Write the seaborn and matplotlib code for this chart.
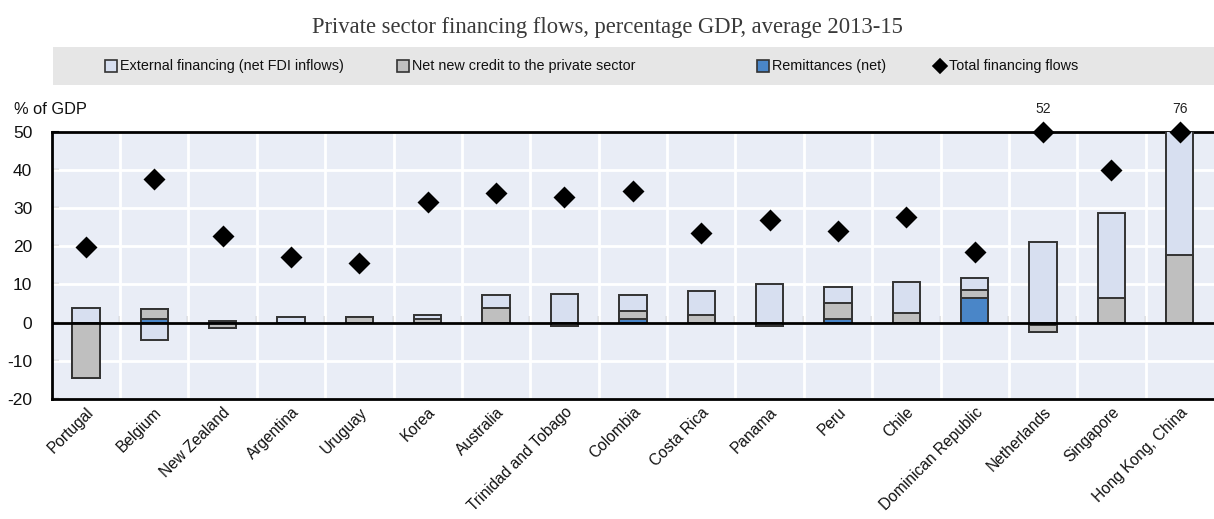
import numpy as np
import pandas as pd
import matplotlib
matplotlib.use("Agg")
import matplotlib.pyplot as plt
from matplotlib.patches import Rectangle
from matplotlib.lines import Line2D
import seaborn as sns

countries = ["Portugal", "Belgium", "New Zealand", "Argentina", "Uruguay", "Korea",
             "Australia", "Trinidad and Tobago", "Colombia", "Costa Rica", "Panama",
             "Peru", "Chile", "Dominican Republic", "Netherlands", "Singapore",
             "Hong Kong, China"]
external = [3.7, -4.6, 0.4, 1.5, 0.0, 0.9, 3.25, 7.6, 4.35, 6.1, 10.0, 4.25, 8.05, 3.25, 21.0, 22.2, 58.3]
credit = [-14.6, 2.5, -1.3, 0.0, 1.5, 1.0, 3.9, -0.9, 1.9, 2.1, -0.8, 4.0, 2.5, 2.1, -1.9, 6.5, 17.7]
remittances = [0.0, 1.0, 0.0, 0.0, 0.0, 0.0, -0.2, 0.0, 1.05, 0.0, 0.0, 1.05, 0.0, 6.35, -0.6, 0.0, 0.0]
total = [19.9, 37.5, 22.7, 17.1, 15.7, 31.7, 34.0, 33.0, 34.5, 23.4, 26.9, 24.0, 27.7, 18.5, 52.0, 40.0, 76.0]

y_ticks = [-20, -10, 0, 10, 20, 30, 40, 50]
y_min, y_max = -20, 50

series_names = ["External financing (net FDI inflows)", "Net new credit to the private sector",
                "Remittances (net)", "Total financing flows"]
c_ext = "#D7DFF0"
c_credit = "#BFBFBF"
c_remit = "#4A86C8"
c_edge = "#333333"
c_bg = "#E9EDF6"

sns.set_theme(style="white")
sans = ["Liberation Sans", "DejaVu Sans"]
plt.rcParams["font.family"] = sans

fig = plt.figure(figsize=(12.14, 5.19), dpi=100)
ax = fig.add_axes([51.7 / 1214, 1 - 399 / 519, 1 - 51.7 / 1214, (399 - 131.7) / 519])
ax.set_facecolor(c_bg)

df = pd.DataFrame({"country": countries, "ext": external, "credit": credit,
                   "remit": remittances, "total": total})

# stack order from zero outward: remittances, credit, external; positives up, negatives down
parts = ["remit", "credit", "ext"]
pos = df[parts].clip(lower=0).cumsum(axis=1)
neg = df[parts].clip(upper=0).cumsum(axis=1)
layer_colors = {"remit": c_remit, "credit": c_credit, "ext": c_ext}

for part in reversed(parts):
    for cum in (pos, neg):
        sns.barplot(x=df["country"], y=cum[part], order=countries, color=layer_colors[part],
                    saturation=1, width=0.4, edgecolor=c_edge, linewidth=1.4,
                    errorbar=None, ax=ax, zorder=3)

# total flows as diamonds, capped at the axis top with the true value written above
shown_total = df["total"].clip(upper=y_max)
n_lines = len(ax.lines)
sns.pointplot(x=df["country"], y=shown_total, order=countries, linestyle="none",
              marker="D", color="black", markersize=9, errorbar=None, ax=ax)
for ln in ax.lines[n_lines:]:
    ln.set_clip_on(False)
    ln.set_zorder(6)
for i, (t, s) in enumerate(zip(df["total"], shown_total)):
    if t > y_max:
        ax.annotate(f"{t:.0f}", xy=(i, s), xytext=(0, 11), textcoords="offset points",
                    ha="center", va="bottom", fontsize=10, color="#222222",
                    annotation_clip=False)

n = len(countries)
ax.set_xlim(-0.5, n - 0.5)
ax.set_ylim(y_min, y_max)
ax.set_yticks(y_ticks)
ax.set_yticklabels([str(v) for v in y_ticks])
ax.set_xlabel("")
ax.set_ylabel("")

# white grid: horizontal at ticks, vertical between categories
for v in y_ticks:
    ax.axhline(v, color="white", lw=2, zorder=1)
for b in np.arange(0.5, n - 0.5, 1):
    ax.axvline(b, color="white", lw=2, zorder=1)
ax.axhline(0, color="black", lw=2, zorder=5)

# small category separators on the zero line
sec = ax.secondary_xaxis((0 - y_min) / (y_max - y_min))
sec.set_xticks(np.arange(0.5, n - 0.5, 1))
sec.set_xticklabels([])
sec.tick_params(axis="x", direction="in", length=5, width=1.5, color="black")
sec.spines["bottom"].set_visible(False)

for side in ["left", "top", "bottom"]:
    ax.spines[side].set_visible(True)
    ax.spines[side].set_color("black")
    ax.spines[side].set_linewidth(2)
ax.spines["right"].set_visible(False)

ax.tick_params(axis="y", direction="in", length=5, width=1.5, color="black",
               pad=14, labelsize=12.5, labelcolor="#111111", left=True)
ax.tick_params(axis="x", bottom=False, length=0, pad=4)
ax.set_xticks(range(n))
ax.set_xticklabels(countries, rotation=45, ha="right", rotation_mode="anchor",
                   fontsize=11.2, color="#111111")

fig.text(14 / 1214, 1 - 109 / 519, "% of GDP", ha="left", va="center",
         fontsize=11.8, color="#111111")

# title
fig.text(0.5, 1 - 27 / 519, "Private sector financing flows, percentage GDP, average 2013-15",
         ha="center", va="center", fontsize=16.3, color="#3a3a3a",
         family=["Liberation Serif", "DejaVu Serif"])

# legend band
fig.add_artist(Rectangle((53 / 1214, 1 - 85 / 519), 1 - 53 / 1214, 38 / 519,
                         transform=fig.transFigure, facecolor="#E6E6E6", edgecolor="none",
                         zorder=0))
leg_y = 1 - 66 / 519
leg_x = [111, 403, 763, 940]
leg_face = [c_ext, c_credit, c_remit, "black"]
leg_marker = ["s", "s", "s", "D"]
for x, name, fc, mk in zip(leg_x, series_names, leg_face, leg_marker):
    fig.add_artist(Line2D([x / 1214], [leg_y], marker=mk, markersize=8.5 if mk == "s" else 7,
                          markerfacecolor=fc, markeredgecolor=c_edge if mk == "s" else "black",
                          markeredgewidth=1.2, linestyle="none", transform=fig.transFigure))
    fig.text((x + 9) / 1214, leg_y, name, ha="left", va="center", fontsize=10.4,
             color="#111111")

fig.savefig("out.png", dpi=100)
